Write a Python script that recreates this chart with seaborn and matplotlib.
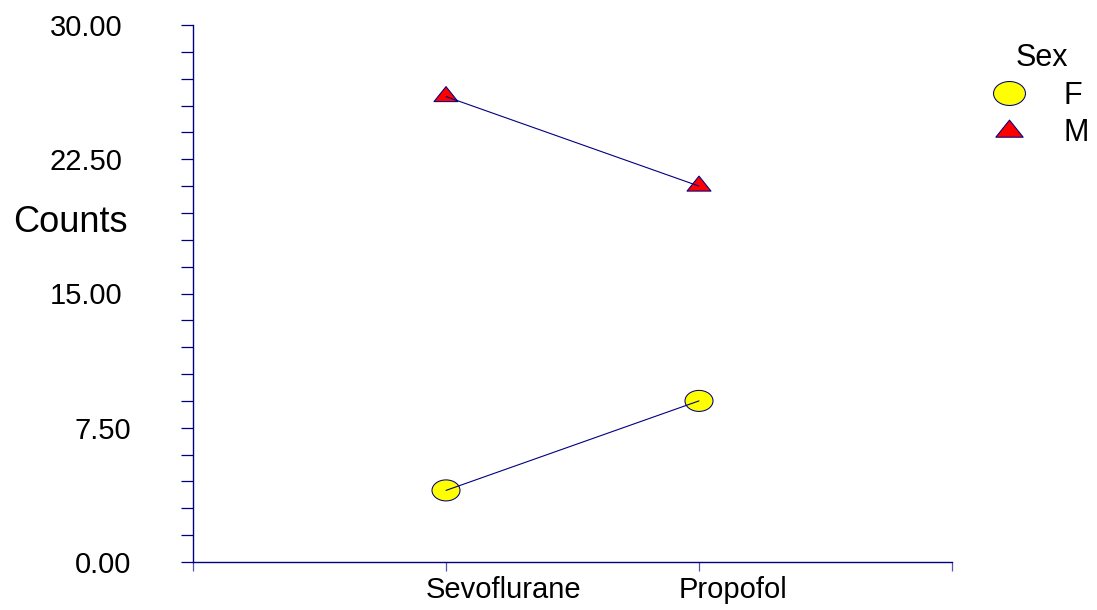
import numpy as np
import pandas as pd
import matplotlib
matplotlib.use("Agg")
import matplotlib.pyplot as plt
from matplotlib.path import Path
from matplotlib.ticker import MultipleLocator, FormatStrFormatter
from matplotlib.transforms import ScaledTranslation
import seaborn as sns

# Data
drugs = ["Sevoflurane", "Propofol"]
sexes = ["F", "M"]
counts_f = [4, 9]
counts_m = [26, 21]

df = pd.DataFrame({
    "Drug": drugs * 2,
    "Sex": ["F"] * len(drugs) + ["M"] * len(drugs),
    "Counts": counts_f + counts_m,
})

NAVY = "#000080"

sns.set_theme(style="white")
plt.rcParams["font.family"] = ["Liberation Sans", "DejaVu Sans"]
plt.rcParams["text.color"] = "black"
plt.rcParams["axes.labelcolor"] = "black"

# Marker shapes: a flattened circle and a wide triangle
circ = Path.unit_circle()
ellipse = Path(circ.vertices * np.array([1.0, 0.75]), circ.codes)
triangle = Path([(0, 10), (-12, -5), (12, -5), (0, 10)],
                [Path.MOVETO, Path.LINETO, Path.LINETO, Path.CLOSEPOLY])

fig = plt.figure(figsize=(10.97, 6.10), dpi=100)
ax = fig.add_axes([193 / 1097, 48 / 610, 759 / 1097, 537 / 610])

sns.scatterplot(
    data=df, x="Drug", y="Counts",
    hue="Sex", style="Sex", size="Sex",
    palette={"F": "#FFFF00", "M": "#FF0000"},
    markers={"F": ellipse, "M": triangle},
    sizes={"F": 407, "M": 299},
    edgecolor=NAVY, linewidth=0.75,
    ax=ax, zorder=2,
)
sns.lineplot(
    data=df, x="Drug", y="Counts", units="Sex", estimator=None,
    color=NAVY, linewidth=0.8, ax=ax, zorder=3, legend=False,
)

# Axes limits and ticks
ax.set_xlim(-1, 2)
ax.set_ylim(0, 30)
ax.yaxis.set_major_locator(MultipleLocator(7.5))
ax.yaxis.set_minor_locator(MultipleLocator(1.5))
ax.yaxis.set_major_formatter(FormatStrFormatter("%.2f"))
ax.set_xticks([0, 1])
ax.set_xticklabels(drugs)
ax.set_xticks([-1, 2], minor=True)

ax.tick_params(axis="y", which="both", direction="out", length=8.6, width=0.9,
               color=NAVY, left=True, labelsize=21, pad=42, labelcolor="black")
ax.tick_params(axis="x", which="both", direction="out", length=6.5, width=0.9,
               color="#5555AA", bottom=True, labelsize=21, pad=3.5, labelcolor="black")

# Shorter value labels sit a little closer to the axis
for tick, val in zip(ax.yaxis.get_major_ticks(), ax.get_yticks()):
    if len("%.2f" % val) < 5:
        tick.set_pad(36)

# Category labels start just left of their tick
shift = ScaledTranslation(-20 / 100, 0, fig.dpi_scale_trans)
for tick in ax.xaxis.get_major_ticks():
    tick.label1.set_horizontalalignment("left")
    tick.label1.set_transform(tick.label1.get_transform() + shift)

for side in ["top", "right"]:
    ax.spines[side].set_visible(False)
for side in ["left", "bottom"]:
    ax.spines[side].set_color(NAVY)
    ax.spines[side].set_linewidth(1.0)

ax.set_xlabel("")
ax.set_ylabel("Counts", fontsize=26, rotation=0, ha="center", va="center")
ax.yaxis.set_label_coords(-0.162, 0.633)

sns.move_legend(
    ax, loc="upper left",
    bbox_to_anchor=(994 / 1097, 567 / 610), bbox_transform=fig.transFigure,
    frameon=False, title="Sex", fontsize=22, title_fontsize=22,
    borderpad=0, borderaxespad=0, handlelength=1.0, handletextpad=1.27,
    labelspacing=0.25, markerscale=1.14,
)

fig.savefig("out.png", dpi=100)
